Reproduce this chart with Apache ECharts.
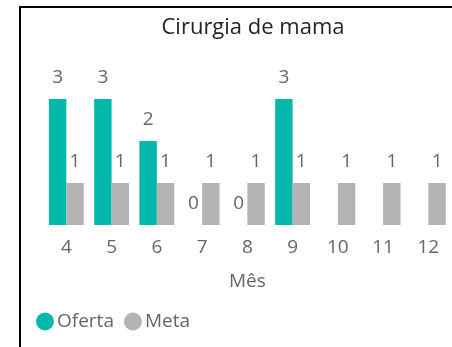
<!DOCTYPE html>
<html>
<head>
<meta charset="utf-8">
<script src="https://cdn.jsdelivr.net/npm/echarts@6/dist/echarts.min.js"></script>
<style>
  html, body { margin: 0; padding: 0; background: #fff; }
  #chart { width: 452px; height: 347px; }
</style>
</head>
<body>
<div id="chart"></div>
<script>
// Monthly breast-surgery offer vs. target
const months = ['4', '5', '6', '7', '8', '9', '10', '11', '12'];
const oferta = [3, 3, 2, 0, 0, 3, null, null, null];
const meta = [1, 1, 1, 1, 1, 1, 1, 1, 1];

const FONT = '"Open Sans", "Noto Sans", sans-serif';
const TEXT_GRAY = '#666666';

const chart = echarts.init(document.getElementById('chart'));

const labelStyle = {
  show: true,
  position: 'top',
  distance: 12,
  fontFamily: FONT,
  fontSize: 19,
  color: TEXT_GRAY
};

chart.setOption({
  animation: false,
  title: {
    text: 'Cirurgia de mama',
    left: 248,
    textAlign: 'center',
    top: 12,
    textStyle: { fontFamily: FONT, fontSize: 22, fontWeight: 'normal', color: '#252423' }
  },
  legend: {
    left: 31,
    top: 307,
    icon: 'circle',
    itemWidth: 18,
    itemHeight: 18,
    itemGap: 10,
    textStyle: { fontFamily: FONT, fontSize: 19, color: TEXT_GRAY, padding: [0, 0, 0, -2] },
    data: ['Oferta', 'Meta']
  },
  grid: { left: 43.7, right: 1, top: 57, bottom: 122, containLabel: false },
  xAxis: {
    type: 'category',
    data: months,
    name: 'Mês',
    nameLocation: 'middle',
    nameGap: 47,
    nameTextStyle: { fontFamily: FONT, fontSize: 19, color: TEXT_GRAY },
    axisLine: { show: false },
    axisTick: { show: false },
    axisLabel: { margin: 13, fontFamily: FONT, fontSize: 19, color: TEXT_GRAY }
  },
  yAxis: {
    type: 'value',
    min: 0,
    max: 4,
    show: false,
    splitLine: { show: false }
  },
  series: [
    {
      name: 'Oferta',
      type: 'bar',
      data: oferta,
      barWidth: 17.4,
      barGap: '0%',
      itemStyle: { color: '#01B8AA' },
      label: labelStyle
    },
    {
      name: 'Meta',
      type: 'bar',
      data: meta,
      barWidth: 17.4,
      barGap: '0%',
      itemStyle: { color: '#B3B3B3' },
      label: labelStyle
    }
  ],
  graphic: [
    {
      type: 'polyline',
      shape: { points: [[20, 347], [20, 7], [452, 7]] },
      style: { stroke: '#000', lineWidth: 2, fill: null }
    }
  ]
});
</script>
</body>
</html>
